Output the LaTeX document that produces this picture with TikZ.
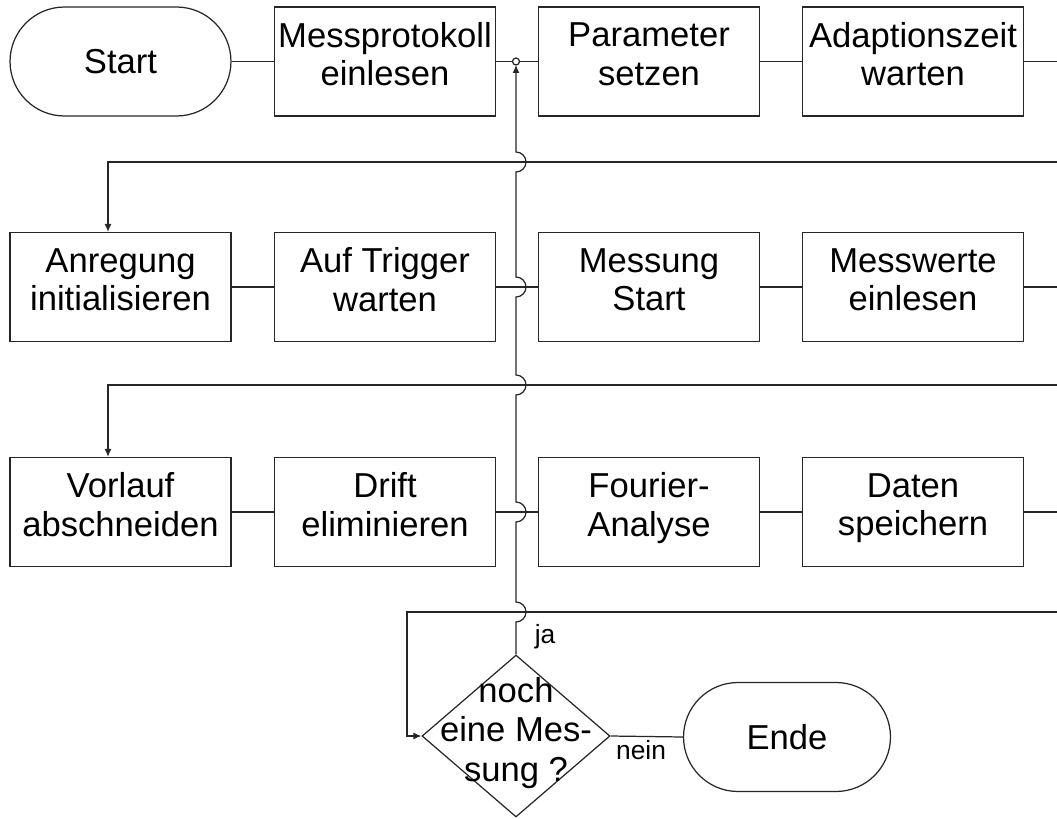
\documentclass[tikz,border=0pt]{standalone}
\usepackage{fontspec}
\setmainfont{Liberation Sans}
\usetikzlibrary{shapes.geometric}
\usetikzlibrary{arrows.meta}
\tikzset{>={Latex[length=1.6mm,width=1.4mm]}}
\colorlet{linecol}{black!85}
\tikzset{
  term/.style={draw=linecol, line width=0.7pt, rectangle, minimum width=4.42cm,
    minimum height=2.18cm, align=center, inner sep=0pt,
    rounded corners=1.09cm, font=\fontsize{19.7}{22}\selectfont},
  box/.style={term, rounded corners=0pt, text depth=0.3cm},
  decide/.style={draw=linecol, line width=0.7pt, diamond, minimum width=3.76cm,
    minimum height=3.24cm, inner sep=0pt},
  lab/.style={font=\fontsize{15}{17}\selectfont, inner sep=0pt},
  conn/.style={draw=linecol, line width=0.7pt}
}

\begin{document}
\begin{tikzpicture}[x=0.02cm,y=0.02cm]
\useasboundingbox (0,0) rectangle (1057,-818);

% first row
\node[term] (start) at (120.5,-61.5) {Start};
\node[box] (prot) at (385,-61.5) {Messprotokoll\\einlesen};
\node[box] (param) at (649,-61.5) {Parameter\\setzen};
\node[box] (adapt) at (913,-61.5) {Adaptionszeit\\warten};

% second row
\node[box] (anreg) at (120.5,-287) {Anregung\\initialisieren};
\node[box] (trig) at (385,-287) {Auf Trigger\\warten};
\node[box] (messung) at (649,-287) {Messung\\Start};
\node[box] (werte) at (913,-287) {Messwerte\\einlesen};

% third row
\node[box] (vorlauf) at (120.5,-512) {Vorlauf\\abschneiden};
\node[box] (drift) at (385,-512) {Drift\\eliminieren};
\node[box] (fourier) at (649,-512) {Fourier-\\Analyse};
\node[box] (daten) at (913,-512) {Daten\\speichern};

% decision and end
\node[decide] (frage) at (516,-736) {};
\node[align=center, font=\fontsize{19.7}{22.5}\selectfont, inner sep=0pt] (fragetext) at (516,-733) {noch\\eine Mes-\\sung ?};
\node[term, minimum width=4.14cm] (ende) at (787,-737) {Ende};
\node[lab] (ja) at (545,-637) {ja};
\node[lab] (nein) at (641,-750) {nein};

% points at the right edge and the bends
\coordinate (aus1) at (1057,-61.5);
\coordinate (aus2) at (1057,-287);
\coordinate (aus3) at (1057,-512);
\coordinate (ein1) at (1057,-162);
\coordinate (ein2) at (1057,-385);
\coordinate (ein3) at (1057,-612);
\coordinate (knick1) at (108,-162);
\coordinate (knick2) at (108,-385);
\coordinate (knick3) at (407,-612);
\coordinate (punkt) at (516,-61.5);

% connectors
\draw[conn] (start) -- (prot);
\draw[conn] (prot) -- (param);
\draw[conn] (param) -- (adapt);
\draw[conn] (adapt) -- (aus1);
\draw[conn,->] (ein1) -- (knick1) -- (knick1 |- anreg.north);
\draw[conn] (anreg) -- (trig);
\draw[conn] (trig) -- (messung);
\draw[conn] (messung) -- (werte);
\draw[conn] (werte) -- (aus2);
\draw[conn,->] (ein2) -- (knick2) -- (knick2 |- vorlauf.north);
\draw[conn] (vorlauf) -- (drift);
\draw[conn] (drift) -- (fourier);
\draw[conn] (fourier) -- (daten);
\draw[conn] (daten) -- (aus3);
\draw[conn,->] (ein3) -- (knick3) -- (knick3 |- frage.west) -- (frage.west);
\draw[conn] (frage.east) -- (ende.west);

% back to the start, hopping over the crossings
\draw[conn,->] (frage.north) -- (516,-622)
  arc[start angle=-90,end angle=90,radius=0.2cm] -- (516,-522)
  arc[start angle=-90,end angle=90,radius=0.2cm] -- (516,-395)
  arc[start angle=-90,end angle=90,radius=0.2cm] -- (516,-297)
  arc[start angle=-90,end angle=90,radius=0.2cm] -- (516,-172)
  arc[start angle=-90,end angle=90,radius=0.2cm] -- (516,-65);
\filldraw[draw=linecol, fill=white, line width=0.7pt] (punkt) circle (0.07cm);
\end{tikzpicture}
\end{document}
